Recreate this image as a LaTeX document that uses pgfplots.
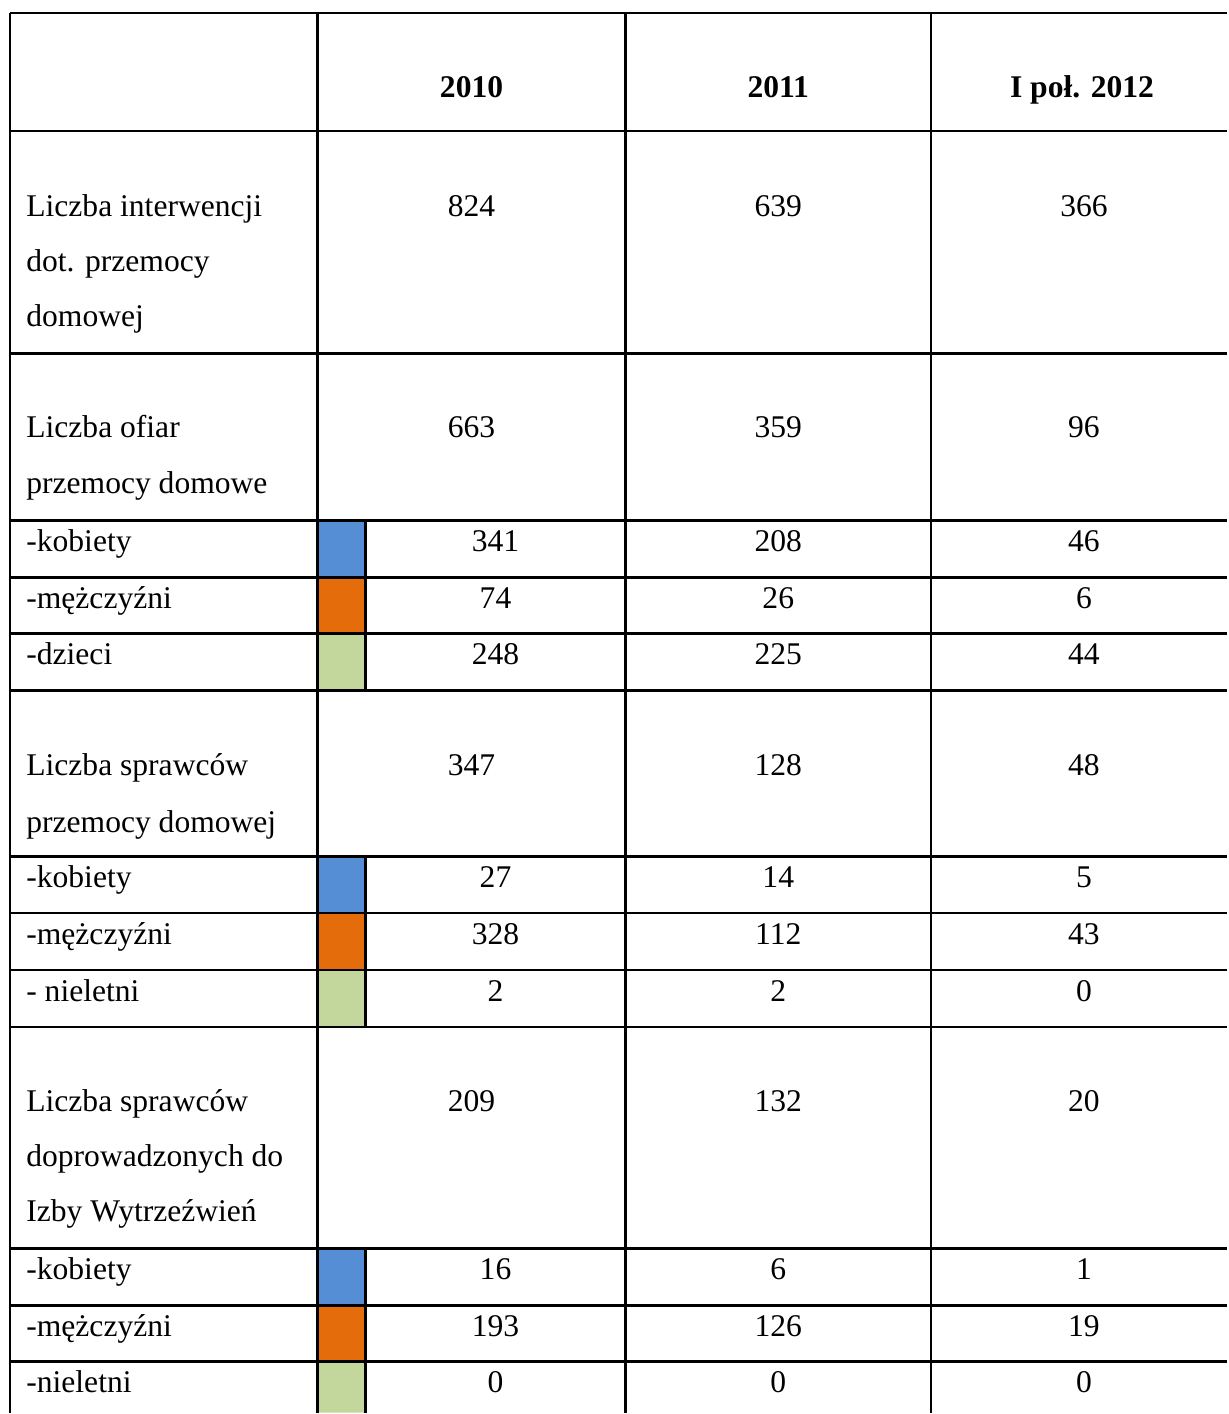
\documentclass[border=0pt]{standalone}
\usepackage{fontspec}
\setmainfont{Liberation Serif}
\usepackage{pgfplots}
\pgfplotsset{compat=1.18}

\definecolor{kob}{HTML}{558ED5}
\definecolor{mez}{HTML}{E46C0A}
\definecolor{dzi}{HTML}{C3D69B}

\begin{document}
\begin{tikzpicture}
\begin{axis}[
    width=614pt, height=707pt, scale only axis,
    xmin=0, xmax=1228, ymin=0, ymax=1414, y dir=reverse,
    hide axis, clip=false,
    unbounded coords=jump,
    cell/.style={only marks, mark=*, mark size=0pt,
        mark options={draw=none, fill=none},
        point meta=explicit symbolic, nodes near coords},
    txt/.style={every node near coord/.append style={inner sep=0pt,
        font=\fontsize{15.8}{18}\selectfont, #1}},
]
% frame of the page
\addplot[draw=none] coordinates {(0,0) (1228,1414)};

% colour keys
\addplot[fill=kob, draw=none] coordinates {(318,521) (366,521) (366,578) (318,578) (318,521)};
\addplot[fill=mez, draw=none] coordinates {(318,578) (366,578) (366,634) (318,634) (318,578)};
\addplot[fill=dzi, draw=none] coordinates {(318,634) (366,634) (366,691) (318,691) (318,634)};
\addplot[fill=kob, draw=none] coordinates {(318,857) (366,857) (366,914) (318,914) (318,857)};
\addplot[fill=mez, draw=none] coordinates {(318,914) (366,914) (366,971) (318,971) (318,914)};
\addplot[fill=dzi, draw=none] coordinates {(318,971) (366,971) (366,1028) (318,1028) (318,971)};
\addplot[fill=kob, draw=none] coordinates {(318,1250) (366,1250) (366,1307) (318,1307) (318,1250)};
\addplot[fill=mez, draw=none] coordinates {(318,1307) (366,1307) (366,1363) (318,1363) (318,1307)};
\addplot[fill=dzi, draw=none] coordinates {(318,1363) (366,1363) (366,1414) (318,1414) (318,1363)};

% rules
\addplot[black, line width=1.35pt] table {
x y
10 13
1228 13
nan nan
10 131
1228 131
nan nan
10 354
1228 354
nan nan
10 521
1228 521
nan nan
10 578
1228 578
nan nan
10 634
1228 634
nan nan
10 691
1228 691
nan nan
10 857
1228 857
nan nan
10 914
1228 914
nan nan
10 971
1228 971
nan nan
10 1028
1228 1028
nan nan
10 1250
1228 1250
nan nan
10 1307
1228 1307
nan nan
10 1363
1228 1363
nan nan
10 13
10 1414
nan nan
318 13
318 1414
nan nan
626 13
626 1414
nan nan
932 13
932 1414
nan nan
366 521
366 691
nan nan
366 857
366 1028
nan nan
366 1250
366 1414
};

% header
\addplot[cell, txt={anchor=base, font=\fontsize{15.8}{18}\selectfont\bfseries}]
table[col sep=comma, meta=t] {
x,y,t
472,98,2010
779,98,2011
1083,98,I poł. 2012
};

% row labels
\addplot[cell, txt={anchor=base west}]
table[col sep=comma, meta=t] {
x,y,t
26,217,Liczba interwencji
26,272,dot. przemocy
26,327,domowej
26,438,Liczba ofiar
26,494,przemocy domowe
26,552,-kobiety
26,609,-mężczyźni
26,665,-dzieci
26,776,Liczba sprawców
26,833,przemocy domowej
26,888,-kobiety
26,945,-mężczyźni
26,1002,- nieletni
26,1113,Liczba sprawców
26,1168,doprowadzonych do
26,1223,Izby Wytrzeźwień
26,1281,-kobiety
26,1338,-mężczyźni
26,1394,-nieletni
};

% values
\addplot[cell, txt={anchor=base}]
table[col sep=comma, meta=t] {
x,y,t
472,217,824
779,217,639
1085,217,366
472,438,663
779,438,359
1085,438,96
496,552,341
779,552,208
1085,552,46
496,609,74
779,609,26
1085,609,6
496,665,248
779,665,225
1085,665,44
472,776,347
779,776,128
1085,776,48
496,888,27
779,888,14
1085,888,5
496,945,328
779,945,112
1085,945,43
496,1002,2
779,1002,2
1085,1002,0
472,1113,209
779,1113,132
1085,1113,20
496,1281,16
779,1281,6
1085,1281,1
496,1338,193
779,1338,126
1085,1338,19
496,1394,0
779,1394,0
1085,1394,0
};
\end{axis}
\end{tikzpicture}
\end{document}
